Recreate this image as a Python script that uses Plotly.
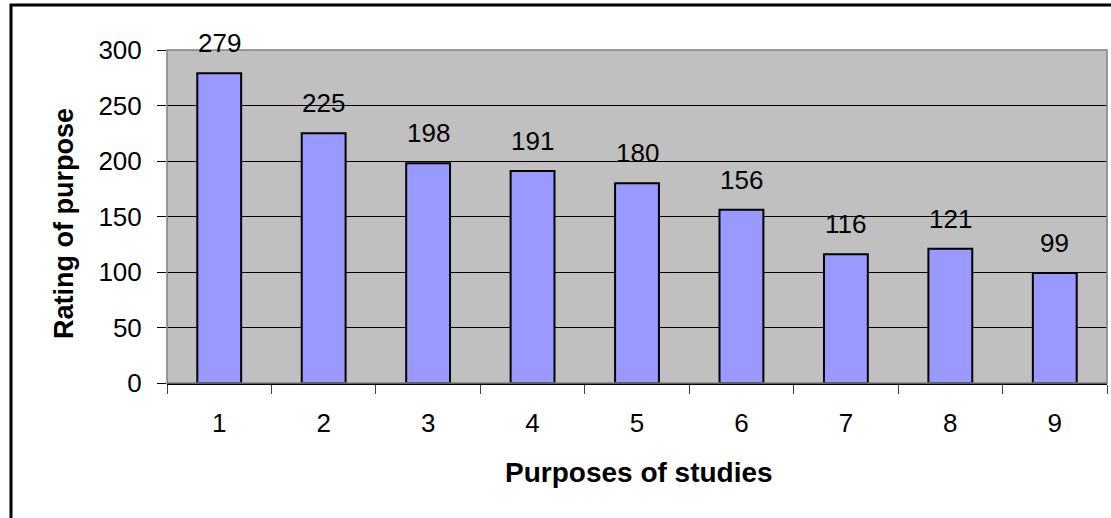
import plotly.graph_objects as go

categories = ["1", "2", "3", "4", "5", "6", "7", "8", "9"]
values = [279, 225, 198, 191, 180, 156, 116, 121, 99]
y_ticks = [0, 50, 100, 150, 200, 250, 300]

W, H = 1111, 518
L, R, T, B = 167, 4, 50, 135
pw = W - L - R
ph = H - T - B

FONT = "Liberation Sans, Arial, sans-serif"

fig = go.Figure()
fig.add_trace(go.Bar(
    x=categories, y=values,
    marker=dict(color="#9999FF", line=dict(color="black", width=2)),
    width=0.42,
    hoverinfo="skip",
))

for i, v in enumerate(values):
    fig.add_annotation(x=i, y=v, text=str(v), showarrow=False,
                       yanchor="middle", yshift=30,
                       font=dict(family=FONT, size=26, color="black"))

# axis titles
fig.add_annotation(xref="paper", yref="paper", x=(64 - L) / pw, y=((T + ph) - 224) / ph,
                   text="<b>Rating of purpose</b>", textangle=-90, showarrow=False,
                   xanchor="center", yanchor="middle",
                   font=dict(family=FONT, size=27, color="black"))
fig.add_annotation(xref="paper", yref="paper", x=(639 - L) / pw, y=-(472 - (T + ph)) / ph,
                   text="<b>Purposes of studies</b>", showarrow=False,
                   xanchor="center", yanchor="middle",
                   font=dict(family=FONT, size=28, color="black"))

# plot area border
fig.add_shape(type="rect", xref="paper", yref="paper", x0=0, y0=0, x1=1, y1=1,
              line=dict(color="#808080", width=1.5), layer="above")
# outer chart frame
fig.add_shape(type="rect", xref="paper", yref="paper",
              x0=(11 - L) / pw, x1=(W + 20 - L) / pw,
              y0=-(H + 20 - (T + ph)) / ph, y1=1 + (T - 5) / ph,
              line=dict(color="black", width=3))

fig.update_layout(
    width=W, height=H,
    margin=dict(l=L, r=R, t=T, b=B, autoexpand=False),
    paper_bgcolor="white", plot_bgcolor="#C0C0C0",
    showlegend=False,
    font=dict(family=FONT, size=26, color="black"),
)
fig.update_xaxes(
    type="category", tickson="boundaries", ticks="outside", ticklen=9,
    tickcolor="#404040", showgrid=False, showline=True, linecolor="black",
    linewidth=1.5, tickfont=dict(size=26), ticklabelstandoff=16,
    automargin=False,
)
fig.update_yaxes(
    range=[0, 300], tickvals=y_ticks, ticks="outside", ticklen=9,
    tickcolor="black", showgrid=True, gridcolor="black", gridwidth=1,
    zeroline=False, showline=False, tickfont=dict(size=26),
    ticklabelstandoff=10, automargin=False,
)

fig.write_html("out.html", config={"displayModeBar": False},
               post_script="document.body.style.margin='0';")
